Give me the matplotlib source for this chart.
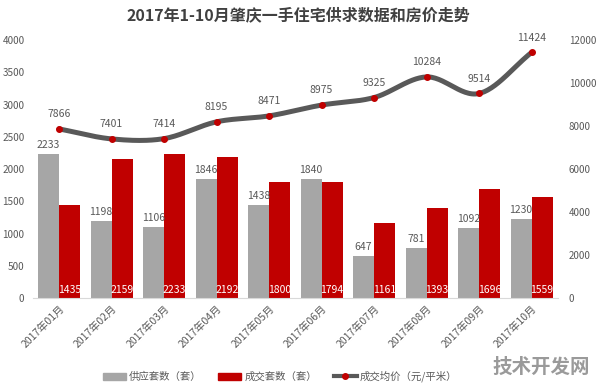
import numpy as np
import matplotlib.pyplot as plt
from matplotlib.lines import Line2D
from matplotlib.patches import Patch

plt.rcParams['font.family'] = ['Noto Sans CJK SC', 'DejaVu Sans']

# -------------------------------
# Données
# -------------------------------
mois = ['2017年01月', '2017年02月', '2017年03月', '2017年04月', '2017年05月',
        '2017年06月', '2017年07月', '2017年08月', '2017年09月', '2017年10月']
offre = [2233, 1198, 1106, 1846, 1438, 1840, 647, 781, 1092, 1230]
ventes = [1435, 2159, 2233, 2192, 1800, 1794, 1161, 1393, 1696, 1559]
prix = [7866, 7401, 7414, 8195, 8471, 8975, 9325, 10284, 9514, 11424]

gris = '#a6a6a6'
rouge = '#c00000'
gris_fonce = '#595959'
texte = '#595959'


def catmull_rom(x, y, n=30):
    # courbe lissée façon Excel passant par les points
    x = np.asarray(x, float)
    y = np.asarray(y, float)
    px = np.concatenate([[2 * x[0] - x[1]], x, [2 * x[-1] - x[-2]]])
    py = np.concatenate([[2 * y[0] - y[1]], y, [2 * y[-1] - y[-2]]])
    xs, ys = [], []
    for i in range(1, len(px) - 2):
        t = np.linspace(0, 1, n, endpoint=False)
        for p, out in ((px, xs), (py, ys)):
            p0, p1, p2, p3 = p[i - 1], p[i], p[i + 1], p[i + 2]
            out.extend(0.5 * (2 * p1 + (-p0 + p2) * t
                              + (2 * p0 - 5 * p1 + 4 * p2 - p3) * t ** 2
                              + (-p0 + 3 * p1 - 3 * p2 + p3) * t ** 3))
    xs.append(x[-1])
    ys.append(y[-1])
    return np.array(xs), np.array(ys)


# -------------------------------
# Figure
# -------------------------------
fig = plt.figure(figsize=(5.96, 3.85), dpi=100)
ax = fig.add_axes([0.055, 0.226, 0.881, 0.67])
ax2 = ax.twinx()

x = np.arange(len(mois))
w = 0.4
ax.bar(x - w / 2, offre, w, color=gris, zorder=2)
ax.bar(x + w / 2, ventes, w, color=rouge, zorder=2)

for i in range(len(mois)):
    ax.text(x[i] - w / 2, offre[i] + 60, str(offre[i]), ha='center', va='bottom',
            fontsize=7.5, color=texte)
    ax.text(x[i] + w / 2, 40, str(ventes[i]), ha='center', va='bottom',
            fontsize=7.5, color='white')

xs, ys = catmull_rom(x, prix)
ax2.plot(xs, ys, color=gris_fonce, lw=3.6, solid_capstyle='round', zorder=3)
ax2.plot(x, prix, 'o', color=rouge, ms=4, zorder=4)
for i in range(len(mois)):
    ax2.text(x[i], prix[i] + 450, str(prix[i]), ha='center', va='bottom',
             fontsize=7.5, color=texte)

ax.set_xlim(-0.5, len(mois) - 0.5)
ax.set_ylim(0, 4000)
ax.set_yticks(np.arange(0, 4001, 500))
ax2.set_ylim(0, 12000)
ax2.set_yticks(np.arange(0, 12001, 2000))

ax.set_xticks(x)
ax.set_xticklabels(mois, rotation=45, ha='right', rotation_mode='anchor',
                   fontsize=7.5, color=texte)
for a in (ax, ax2):
    a.tick_params(axis='both', length=0, labelsize=7.2, labelcolor=texte)
    for s in a.spines.values():
        s.set_visible(False)
ax.spines['bottom'].set_visible(True)
ax.spines['bottom'].set_color('#d9d9d9')
ax.tick_params(axis='y', pad=6)
ax2.tick_params(axis='y', pad=8, labelsize=7)
ax.tick_params(axis='x', pad=4, labelsize=7.5)

fig.text(0.5, 0.96, '2017年1-10月肇庆一手住宅供求数据和房价走势', ha='center', va='center',
         fontsize=11.5, fontweight='bold', color='#404040')

poignees = [Patch(color=gris), Patch(color=rouge),
            Line2D([0], [0], color=gris_fonce, lw=3, marker='o',
                   markerfacecolor=rouge, markeredgecolor=rouge, ms=4)]
fig.legend(poignees, ['供应套数（套）', '成交套数（套）', '成交均价（元/平米）'],
           loc='center', bbox_to_anchor=(0.47, 0.022), ncol=3, frameon=False,
           fontsize=7.5, labelcolor=texte, handlelength=2.2, handletextpad=0.3,
           columnspacing=1.6)

fig.text(0.99, 0.045, '技术开发网', ha='right', va='center', fontsize=14,
         fontweight='bold', color='#9a9a9a')

fig.savefig('out.png', dpi=100)
